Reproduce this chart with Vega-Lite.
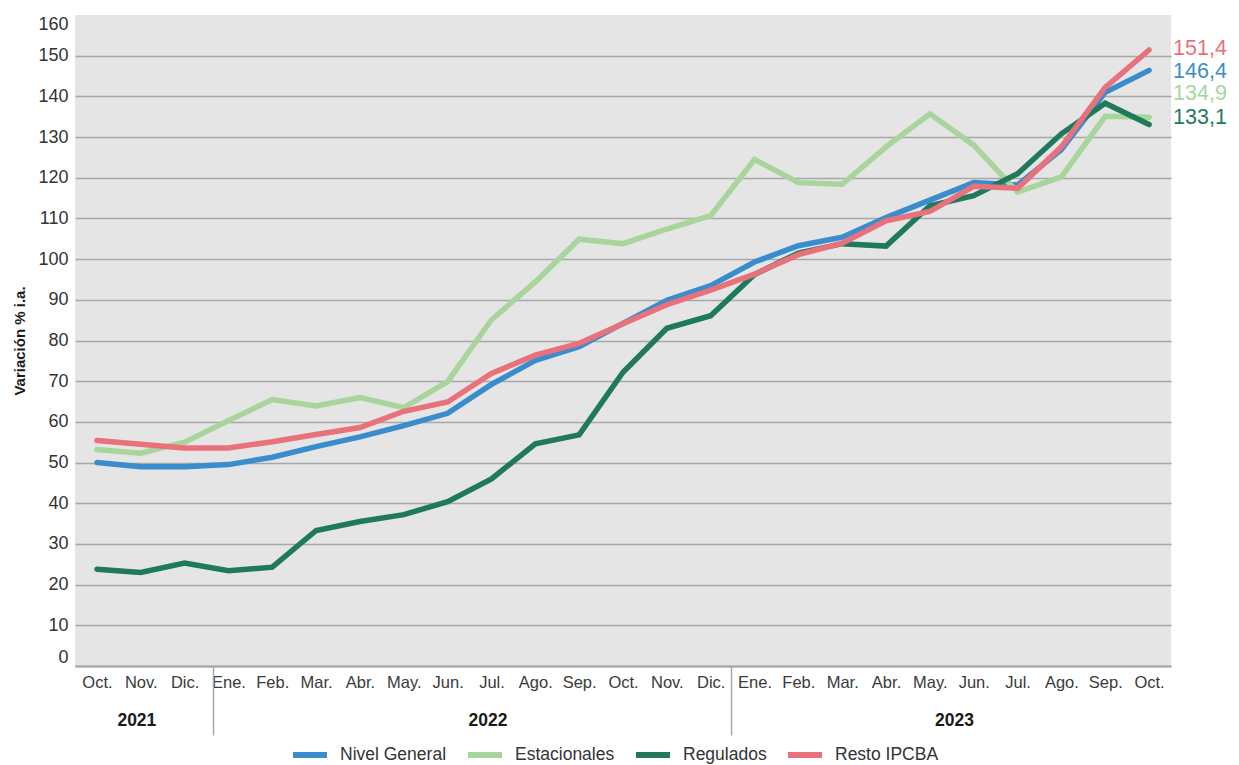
{
  "$schema": "https://vega.github.io/schema/vega-lite/v6.json",
  "width": 1096,
  "height": 651,
  "autosize": "none",
  "padding": {"left": 75, "top": 15, "right": 68, "bottom": 99},
  "background": "white",
  "config": {
    "view": {"fill": "#e5e5e5", "stroke": null},
    "font": "Liberation Sans",
    "locale": {"number": {"decimal": ",", "thousands": ".", "grouping": [3], "currency": ["$", ""]}}
  },
  "data": {
    "values": [
      {"n": 0, "serie": "Nivel General", "valor": 50.0},
      {"n": 1, "serie": "Nivel General", "valor": 49.0},
      {"n": 2, "serie": "Nivel General", "valor": 49.0},
      {"n": 3, "serie": "Nivel General", "valor": 49.5},
      {"n": 4, "serie": "Nivel General", "valor": 51.3},
      {"n": 5, "serie": "Nivel General", "valor": 53.9},
      {"n": 6, "serie": "Nivel General", "valor": 56.3},
      {"n": 7, "serie": "Nivel General", "valor": 59.1},
      {"n": 8, "serie": "Nivel General", "valor": 62.1},
      {"n": 9, "serie": "Nivel General", "valor": 69.2},
      {"n": 10, "serie": "Nivel General", "valor": 75.1},
      {"n": 11, "serie": "Nivel General", "valor": 78.5},
      {"n": 12, "serie": "Nivel General", "valor": 84.2},
      {"n": 13, "serie": "Nivel General", "valor": 89.9},
      {"n": 14, "serie": "Nivel General", "valor": 93.5},
      {"n": 15, "serie": "Nivel General", "valor": 99.3},
      {"n": 16, "serie": "Nivel General", "valor": 103.3},
      {"n": 17, "serie": "Nivel General", "valor": 105.4},
      {"n": 18, "serie": "Nivel General", "valor": 110.2},
      {"n": 19, "serie": "Nivel General", "valor": 114.5},
      {"n": 20, "serie": "Nivel General", "valor": 118.8},
      {"n": 21, "serie": "Nivel General", "valor": 118.2},
      {"n": 22, "serie": "Nivel General", "valor": 126.9},
      {"n": 23, "serie": "Nivel General", "valor": 141.0},
      {"n": 24, "serie": "Nivel General", "valor": 146.4},
      {"n": 0, "serie": "Estacionales", "valor": 53.2},
      {"n": 1, "serie": "Estacionales", "valor": 52.3},
      {"n": 2, "serie": "Estacionales", "valor": 55.0},
      {"n": 3, "serie": "Estacionales", "valor": 60.3},
      {"n": 4, "serie": "Estacionales", "valor": 65.5},
      {"n": 5, "serie": "Estacionales", "valor": 63.9},
      {"n": 6, "serie": "Estacionales", "valor": 66.0},
      {"n": 7, "serie": "Estacionales", "valor": 63.5},
      {"n": 8, "serie": "Estacionales", "valor": 69.9},
      {"n": 9, "serie": "Estacionales", "valor": 85.1},
      {"n": 10, "serie": "Estacionales", "valor": 94.4},
      {"n": 11, "serie": "Estacionales", "valor": 104.9},
      {"n": 12, "serie": "Estacionales", "valor": 103.8},
      {"n": 13, "serie": "Estacionales", "valor": 107.4},
      {"n": 14, "serie": "Estacionales", "valor": 110.7},
      {"n": 15, "serie": "Estacionales", "valor": 124.5},
      {"n": 16, "serie": "Estacionales", "valor": 118.8},
      {"n": 17, "serie": "Estacionales", "valor": 118.4},
      {"n": 18, "serie": "Estacionales", "valor": 127.6},
      {"n": 19, "serie": "Estacionales", "valor": 135.7},
      {"n": 20, "serie": "Estacionales", "valor": 128.0},
      {"n": 21, "serie": "Estacionales", "valor": 116.5},
      {"n": 22, "serie": "Estacionales", "valor": 120.2},
      {"n": 23, "serie": "Estacionales", "valor": 135.1},
      {"n": 24, "serie": "Estacionales", "valor": 134.9},
      {"n": 0, "serie": "Regulados", "valor": 23.8},
      {"n": 1, "serie": "Regulados", "valor": 23.0},
      {"n": 2, "serie": "Regulados", "valor": 25.3},
      {"n": 3, "serie": "Regulados", "valor": 23.4},
      {"n": 4, "serie": "Regulados", "valor": 24.3},
      {"n": 5, "serie": "Regulados", "valor": 33.3},
      {"n": 6, "serie": "Regulados", "valor": 35.5},
      {"n": 7, "serie": "Regulados", "valor": 37.2},
      {"n": 8, "serie": "Regulados", "valor": 40.4},
      {"n": 9, "serie": "Regulados", "valor": 46.0},
      {"n": 10, "serie": "Regulados", "valor": 54.6},
      {"n": 11, "serie": "Regulados", "valor": 56.8},
      {"n": 12, "serie": "Regulados", "valor": 72.2},
      {"n": 13, "serie": "Regulados", "valor": 83.0},
      {"n": 14, "serie": "Regulados", "valor": 86.1},
      {"n": 15, "serie": "Regulados", "valor": 96.2},
      {"n": 16, "serie": "Regulados", "valor": 101.5},
      {"n": 17, "serie": "Regulados", "valor": 103.8},
      {"n": 18, "serie": "Regulados", "valor": 103.2},
      {"n": 19, "serie": "Regulados", "valor": 113.1},
      {"n": 20, "serie": "Regulados", "valor": 115.6},
      {"n": 21, "serie": "Regulados", "valor": 121.0},
      {"n": 22, "serie": "Regulados", "valor": 130.8},
      {"n": 23, "serie": "Regulados", "valor": 138.3},
      {"n": 24, "serie": "Regulados", "valor": 133.1},
      {"n": 0, "serie": "Resto IPCBA", "valor": 55.4},
      {"n": 1, "serie": "Resto IPCBA", "valor": 54.5},
      {"n": 2, "serie": "Resto IPCBA", "valor": 53.6},
      {"n": 3, "serie": "Resto IPCBA", "valor": 53.6},
      {"n": 4, "serie": "Resto IPCBA", "valor": 55.1},
      {"n": 5, "serie": "Resto IPCBA", "valor": 56.9},
      {"n": 6, "serie": "Resto IPCBA", "valor": 58.6},
      {"n": 7, "serie": "Resto IPCBA", "valor": 62.6},
      {"n": 8, "serie": "Resto IPCBA", "valor": 64.9},
      {"n": 9, "serie": "Resto IPCBA", "valor": 71.9},
      {"n": 10, "serie": "Resto IPCBA", "valor": 76.4},
      {"n": 11, "serie": "Resto IPCBA", "valor": 79.3},
      {"n": 12, "serie": "Resto IPCBA", "valor": 84.1},
      {"n": 13, "serie": "Resto IPCBA", "valor": 88.8},
      {"n": 14, "serie": "Resto IPCBA", "valor": 92.4},
      {"n": 15, "serie": "Resto IPCBA", "valor": 96.3},
      {"n": 16, "serie": "Resto IPCBA", "valor": 101.1},
      {"n": 17, "serie": "Resto IPCBA", "valor": 103.9},
      {"n": 18, "serie": "Resto IPCBA", "valor": 109.4},
      {"n": 19, "serie": "Resto IPCBA", "valor": 111.7},
      {"n": 20, "serie": "Resto IPCBA", "valor": 117.9},
      {"n": 21, "serie": "Resto IPCBA", "valor": 117.4},
      {"n": 22, "serie": "Resto IPCBA", "valor": 127.6},
      {"n": 23, "serie": "Resto IPCBA", "valor": 142.2},
      {"n": 24, "serie": "Resto IPCBA", "valor": 151.4}
    ]
  },
  "resolve": {"axis": {"x": "independent"}},
  "layer": [
    {
      "mark": {"type": "line", "strokeWidth": 5.5, "strokeCap": "round", "strokeJoin": "miter"},
      "encoding": {
        "x": {
          "field": "n", "type": "quantitative",
          "scale": {"domain": [-0.5, 24.5], "nice": false, "zero": false},
          "axis": {
            "orient": "bottom", "title": null,
            "values": [0,1,2,3,4,5,6,7,8,9,10,11,12,13,14,15,16,17,18,19,20,21,22,23,24],
            "labelExpr": "['Oct.','Nov.','Dic.','Ene.','Feb.','Mar.','Abr.','May.','Jun.','Jul.','Ago.','Sep.','Oct.','Nov.','Dic.','Ene.','Feb.','Mar.','Abr.','May.','Jun.','Jul.','Ago.','Sep.','Oct.'][datum.value]",
            "ticks": false, "grid": false, "domain": true, "domainColor": "#a6a6a6", "domainWidth": 2,
            "labelFont": "Liberation Sans", "labelFontSize": 16.5, "labelColor": "#3a3a3a",
            "labelPadding": 8, "labelFlush": false, "labelOverlap": false
          }
        },
        "y": {
          "field": "valor", "type": "quantitative",
          "scale": {"domain": [0, 160], "nice": false},
          "axis": {
            "title": "Variación % i.a.",
            "titleFont": "Liberation Sans", "titleFontWeight": "bold", "titleFontSize": 15,
            "titleColor": "#1a1a1a", "titlePadding": 10,
            "values": [0,10,20,30,40,50,60,70,80,90,100,110,120,130,140,150,160],
            "labelFont": "Liberation Sans", "labelFontSize": 18, "labelColor": "#333333",
            "labelPadding": 7, "labelFlush": true,
            "ticks": false, "domain": false, "grid": true,
            "gridColor": {"condition": {"test": "datum.value >= 160", "value": "transparent"}, "value": "#a8a8a8"},
            "gridWidth": 1.5
          }
        },
        "color": {
          "field": "serie", "type": "nominal",
          "scale": {
            "domain": ["Nivel General", "Estacionales", "Regulados", "Resto IPCBA"],
            "range": ["#3a8dcd", "#a8d59b", "#1f7a5c", "#e8717c"]
          },
          "legend": {
            "orient": "none", "legendX": 215, "legendY": 720, "direction": "horizontal",
            "title": null, "symbolType": "stroke", "symbolSize": 1156, "symbolStrokeWidth": 6,
            "labelFont": "Liberation Sans", "labelFontSize": 17.5, "labelColor": "#333333",
            "labelOffset": 10, "columnPadding": 9, "padding": 0, "labelLimit": 0
          }
        }
      }
    },
    {
      "transform": [{"filter": "datum.n == 24 && datum.serie == 'Resto IPCBA'"}],
      "mark": {"type": "text", "align": "left", "baseline": "middle", "dx": 24, "dy": -1, "fontSize": 21.5, "font": "Liberation Sans", "color": "#e8717c"},
      "encoding": {
        "x": {
          "field": "n", "type": "quantitative",
          "scale": {"domain": [-0.5, 24.5], "nice": false, "zero": false},
          "axis": {
            "orient": "bottom", "title": null, "values": [0.9, 8.91, 19.55],
            "labelExpr": "datum.value < 2 ? '2021' : datum.value < 14 ? '2022' : '2023'",
            "ticks": false, "domain": false, "grid": false,
            "labelFont": "Liberation Sans", "labelFontWeight": "bold", "labelFontSize": 17.5,
            "labelColor": "#1a1a1a", "labelPadding": 45, "labelFlush": false
          }
        },
        "y": {"field": "valor", "type": "quantitative"},
        "text": {"field": "valor", "type": "quantitative", "format": ".1f"}
      }
    },
    {
      "transform": [{"filter": "datum.n == 24 && datum.serie == 'Nivel General'"}],
      "mark": {"type": "text", "align": "left", "baseline": "middle", "dx": 24, "dy": 2, "fontSize": 21.5, "font": "Liberation Sans", "color": "#3a8dcd"},
      "encoding": {
        "x": {
          "field": "n", "type": "quantitative",
          "scale": {"domain": [-0.5, 24.5], "nice": false, "zero": false},
          "axis": {
            "orient": "bottom", "title": null, "values": [2.65, 14.47],
            "labels": false, "ticks": true, "tickSize": 69, "tickColor": "#a8a8a8", "tickWidth": 1.5,
            "domain": false, "grid": false
          }
        },
        "y": {"field": "valor", "type": "quantitative"},
        "text": {"field": "valor", "type": "quantitative", "format": ".1f"}
      }
    },
    {
      "transform": [{"filter": "datum.n == 24 && datum.serie == 'Estacionales'"}],
      "mark": {"type": "text", "align": "left", "baseline": "middle", "dx": 24, "dy": -23, "fontSize": 21.5, "font": "Liberation Sans", "color": "#a8d59b"},
      "encoding": {
        "x": {"field": "n", "type": "quantitative", "scale": {"domain": [-0.5, 24.5], "nice": false, "zero": false}, "axis": null},
        "y": {"field": "valor", "type": "quantitative"},
        "text": {"field": "valor", "type": "quantitative", "format": ".1f"}
      }
    },
    {
      "transform": [{"filter": "datum.n == 24 && datum.serie == 'Regulados'"}],
      "mark": {"type": "text", "align": "left", "baseline": "middle", "dx": 24, "dy": -6, "fontSize": 21.5, "font": "Liberation Sans", "color": "#1f7a5c"},
      "encoding": {
        "x": {"field": "n", "type": "quantitative", "scale": {"domain": [-0.5, 24.5], "nice": false, "zero": false}, "axis": null},
        "y": {"field": "valor", "type": "quantitative"},
        "text": {"field": "valor", "type": "quantitative", "format": ".1f"}
      }
    }
  ]
}
